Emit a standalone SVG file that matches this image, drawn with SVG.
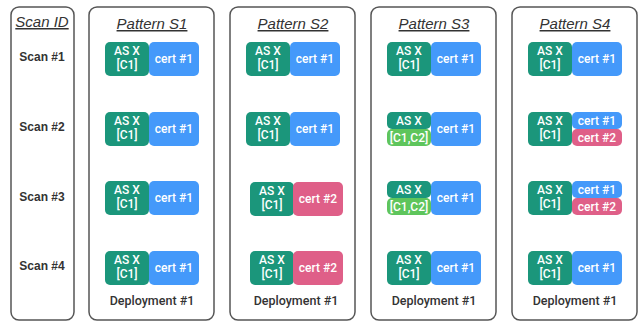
<svg xmlns="http://www.w3.org/2000/svg" width="639" height="322" viewBox="0 0 639 322">
<style>
.panel{fill:#fff;stroke:#555;stroke-width:1.5}
.title{font-family:"Liberation Sans",Arial,sans-serif;font-size:15px;font-style:italic;text-decoration:underline;fill:#333;text-anchor:middle}
.scan{font-family:"Liberation Sans",Arial,sans-serif;font-size:12px;font-weight:bold;fill:#333;text-anchor:middle}
.dep{font-family:Roboto,"Liberation Sans",sans-serif;font-size:12.5px;font-weight:500;fill:#333;text-anchor:middle}
.as{fill:#1b967b}
.cert1{fill:#4499fa}
.cert2{fill:#df5f88}
.grn{fill:#5ec55c}
.t{font-family:Roboto,"Liberation Sans",sans-serif;font-size:12px;font-weight:500;fill:#fff;text-anchor:middle}
</style>
<rect width="639" height="322" fill="#fff"/>
<g id="scan-id">
<rect class="panel" x="11" y="7" width="63" height="313" rx="8"/>
<text class="title" x="42" y="27">Scan ID</text>
<text class="scan" x="42" y="61">Scan #1</text>
<text class="scan" x="42" y="131">Scan #2</text>
<text class="scan" x="42" y="201">Scan #3</text>
<text class="scan" x="42" y="270">Scan #4</text>
</g>
<g id="pattern-s1">
<rect class="panel" x="89" y="7" width="125" height="313" rx="8"/>
<text class="title" x="152" y="29">Pattern S1</text>
<text class="dep" x="152" y="305">Deployment #1</text>
<g id="s1-r1"><rect class="as" x="105" y="42" width="44" height="34" rx="5"/><text class="t" x="127" y="55">AS X</text><text class="t" x="127" y="69">[C1]</text><rect class="cert1" x="149" y="42" width="50" height="34" rx="5"/><text class="t" x="174" y="63">cert #1</text></g>
<g id="s1-r2"><rect class="as" x="105" y="112" width="44" height="34" rx="5"/><text class="t" x="127" y="125">AS X</text><text class="t" x="127" y="139">[C1]</text><rect class="cert1" x="149" y="112" width="50" height="34" rx="5"/><text class="t" x="174" y="133">cert #1</text></g>
<g id="s1-r3"><rect class="as" x="105" y="181" width="44" height="34" rx="5"/><text class="t" x="127" y="194">AS X</text><text class="t" x="127" y="208">[C1]</text><rect class="cert1" x="149" y="181" width="50" height="34" rx="5"/><text class="t" x="174" y="202">cert #1</text></g>
<g id="s1-r4"><rect class="as" x="105" y="251" width="44" height="34" rx="5"/><text class="t" x="127" y="264">AS X</text><text class="t" x="127" y="278">[C1]</text><rect class="cert1" x="149" y="251" width="50" height="34" rx="5"/><text class="t" x="174" y="272">cert #1</text></g>
</g>
<g id="pattern-s2">
<rect class="panel" x="230" y="7" width="125" height="313" rx="8"/>
<text class="title" x="293" y="29">Pattern S2</text>
<text class="dep" x="296" y="305">Deployment #1</text>
<g id="s2-r1"><rect class="as" x="246" y="42" width="44" height="34" rx="5"/><text class="t" x="268" y="55">AS X</text><text class="t" x="268" y="69">[C1]</text><rect class="cert1" x="290" y="42" width="50" height="34" rx="5"/><text class="t" x="315" y="63">cert #1</text></g>
<g id="s2-r2"><rect class="as" x="246" y="112" width="44" height="34" rx="5"/><text class="t" x="268" y="125">AS X</text><text class="t" x="268" y="139">[C1]</text><rect class="cert1" x="290" y="112" width="50" height="34" rx="5"/><text class="t" x="315" y="133">cert #1</text></g>
<g id="s2-r3"><rect class="as" x="250" y="182" width="44" height="34" rx="5"/><text class="t" x="272" y="195">AS X</text><text class="t" x="272" y="209">[C1]</text><rect class="cert2" x="293" y="182" width="50" height="34" rx="5"/><text class="t" x="318" y="203">cert #2</text></g>
<g id="s2-r4"><rect class="as" x="250" y="251" width="44" height="34" rx="5"/><text class="t" x="272" y="264">AS X</text><text class="t" x="272" y="278">[C1]</text><rect class="cert2" x="293" y="251" width="50" height="34" rx="5"/><text class="t" x="318" y="272">cert #2</text></g>
</g>
<g id="pattern-s3">
<rect class="panel" x="371" y="7" width="125" height="313" rx="8"/>
<text class="title" x="434" y="29">Pattern S3</text>
<text class="dep" x="434" y="305">Deployment #1</text>
<g id="s3-r1"><rect class="as" x="387" y="42" width="44" height="34" rx="5"/><text class="t" x="409" y="55">AS X</text><text class="t" x="409" y="69">[C1]</text><rect class="cert1" x="431" y="42" width="50" height="34" rx="5"/><text class="t" x="456" y="63">cert #1</text></g>
<g id="s3-r2"><rect class="as" x="387" y="112" width="44" height="17" rx="5"/><text class="t" x="409" y="125">AS X</text><rect class="grn" x="387" y="129" width="44" height="17" rx="5"/><text class="t" x="409" y="142">[C1,C2]</text><rect class="cert1" x="431" y="112" width="50" height="34" rx="5"/><text class="t" x="456" y="133">cert #1</text></g>
<g id="s3-r3"><rect class="as" x="387" y="181" width="44" height="17" rx="5"/><text class="t" x="409" y="194">AS X</text><rect class="grn" x="387" y="198" width="44" height="17" rx="5"/><text class="t" x="409" y="211">[C1,C2]</text><rect class="cert1" x="431" y="181" width="50" height="34" rx="5"/><text class="t" x="456" y="202">cert #1</text></g>
<g id="s3-r4"><rect class="as" x="387" y="251" width="44" height="34" rx="5"/><text class="t" x="409" y="264">AS X</text><text class="t" x="409" y="278">[C1]</text><rect class="cert1" x="431" y="251" width="50" height="34" rx="5"/><text class="t" x="456" y="272">cert #1</text></g>
</g>
<g id="pattern-s4">
<rect class="panel" x="512" y="7" width="125" height="313" rx="8"/>
<text class="title" x="575" y="29">Pattern S4</text>
<text class="dep" x="575" y="305">Deployment #1</text>
<g id="s4-r1"><rect class="as" x="528" y="42" width="44" height="34" rx="5"/><text class="t" x="550" y="55">AS X</text><text class="t" x="550" y="69">[C1]</text><rect class="cert1" x="572" y="42" width="50" height="34" rx="5"/><text class="t" x="597" y="63">cert #1</text></g>
<g id="s4-r2"><rect class="as" x="528" y="112" width="44" height="34" rx="5"/><text class="t" x="550" y="125">AS X</text><text class="t" x="550" y="139">[C1]</text><rect class="cert1" x="572" y="112" width="50" height="17" rx="5"/><text class="t" x="597" y="125">cert #1</text><rect class="cert2" x="572" y="129" width="50" height="17" rx="5"/><text class="t" x="597" y="142">cert #2</text></g>
<g id="s4-r3"><rect class="as" x="528" y="181" width="44" height="34" rx="5"/><text class="t" x="550" y="194">AS X</text><text class="t" x="550" y="208">[C1]</text><rect class="cert1" x="572" y="181" width="50" height="17" rx="5"/><text class="t" x="597" y="194">cert #1</text><rect class="cert2" x="572" y="198" width="50" height="17" rx="5"/><text class="t" x="597" y="211">cert #2</text></g>
<g id="s4-r4"><rect class="as" x="528" y="251" width="44" height="34" rx="5"/><text class="t" x="550" y="264">AS X</text><text class="t" x="550" y="278">[C1]</text><rect class="cert1" x="572" y="251" width="50" height="34" rx="5"/><text class="t" x="597" y="272">cert #1</text></g>
</g>
<g id="connectors"/>
</svg>
